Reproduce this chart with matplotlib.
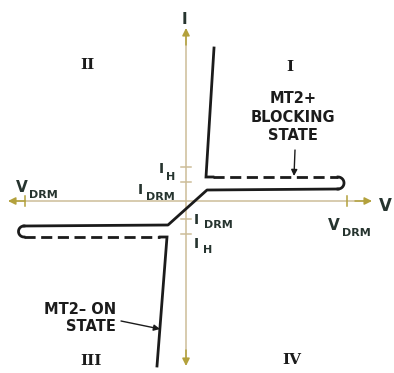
import numpy as np
import matplotlib
matplotlib.use("Agg")
from matplotlib import pyplot as plt

# canvas in pixel units (origin top-left), axes cross at (186, 201)
W, H = 394, 373
ox, oy = 186, 201

# axis ends and tick marks
v_axis_y = [30, 362]
h_axis_x = [10, 370]
i_ticks = [167, 182, 219, 234]
v_ticks = [25, 347]

# characteristic curve, pixel coords
on_q1_x = [214, 206, 213]
on_q1_y = [48, 177, 177]
block_q1_x = [213, 338]
block_q1_y = [177, 177]
main_x = [338, 207, 168, 24]
main_y = [189, 190, 225, 226]
block_q3_x = [24, 160]
block_q3_y = [237, 237]
on_q3_x = [160, 167, 157]
on_q3_y = [237, 237, 366]

ink = "#1b1b1b"
lab = "#26342f"
axc = "#cdbd98"
arrc = "#b3a13c"

fig = plt.figure(figsize=(W / 100, H / 100), dpi=100)
ax = fig.add_axes([0, 0, 1, 1])
ax.set_xlim(0, W)
ax.set_ylim(H, 0)
ax.axis("off")

# axes lines
ax.plot([ox, ox], v_axis_y, color=axc, lw=1.1, zorder=1)
ax.plot(h_axis_x, [oy, oy], color=axc, lw=1.1, zorder=1)
arr = dict(arrowstyle="-|>", color=arrc, lw=1.1, mutation_scale=11, shrinkA=0, shrinkB=0)
ax.annotate("", xy=(ox, 28), xytext=(ox, 45), arrowprops=arr)
ax.annotate("", xy=(ox, 366), xytext=(ox, 350), arrowprops=arr)
ax.annotate("", xy=(8, oy), xytext=(25, oy), arrowprops=arr)
ax.annotate("", xy=(372, oy), xytext=(355, oy), arrowprops=arr)
for t in i_ticks:
    ax.plot([ox - 5, ox + 5], [t, t], color=axc, lw=1.1, zorder=1)
for t in v_ticks:
    ax.plot([t, t], [oy - 5, oy + 5], color=arrc, lw=1.1, zorder=1)

# curve
lw = 2.0
dash = (4.0, 2.0)
ax.plot(on_q1_x, on_q1_y, color=ink, lw=lw, solid_joinstyle="miter", zorder=3)
ax.plot(block_q1_x, block_q1_y, color=ink, lw=lw, dashes=dash, zorder=3)
ax.plot(main_x, main_y, color=ink, lw=lw, zorder=3)
ax.plot(block_q3_x, block_q3_y, color=ink, lw=lw, dashes=dash, zorder=3)
ax.plot(on_q3_x, on_q3_y, color=ink, lw=lw, solid_joinstyle="miter", zorder=3)

# hooks joining solid and dashed branches
th = np.linspace(-np.pi / 2, np.pi / 2, 30)
ax.plot(338 + 6 * np.cos(th), 183 + 6 * np.sin(th), color=ink, lw=lw, zorder=3)
ax.plot(24 - 5.5 * np.cos(th), 231.5 + 5.5 * np.sin(th), color=ink, lw=lw, zorder=3)

# quadrant numerals
qf = dict(family="DejaVu Serif", weight="bold", size=11, color=ink, ha="center", va="center")
ax.text(87, 65, "II", **qf)
ax.text(290, 67, "I", **qf)
ax.text(91, 361, "III", **qf)
ax.text(292, 360, "IV", **qf)

sf = dict(family="DejaVu Sans", weight="bold", color=lab, va="center")
ax.text(184, 19, "I", size=11, ha="center", **sf)
ax.text(385, 206, "V", size=12, ha="center", **sf)

# V_DRM labels
ax.text(22, 188, "V", size=11, ha="center", **sf)
ax.text(43, 195, "DRM", size=8, ha="center", **sf)
ax.text(334, 226, "V", size=11, ha="center", **sf)
ax.text(356, 233, "DRM", size=8, ha="center", **sf)

# I_H / I_DRM labels
ax.text(161, 169, "I", size=10, ha="center", **sf)
ax.text(171, 177, "H", size=8, ha="center", **sf)
ax.text(140, 190, "I", size=10, ha="center", **sf)
ax.text(160, 197, "DRM", size=8, ha="center", **sf)
ax.text(196, 220, "I", size=10, ha="center", **sf)
ax.text(218, 225, "DRM", size=8, ha="center", **sf)
ax.text(196, 244, "I", size=10, ha="center", **sf)
ax.text(208, 250, "H", size=8, ha="center", **sf)

# state annotations
ax.text(293, 117, "MT2+\nBLOCKING\nSTATE", size=10.5, ha="center", linespacing=1.3,
        family="DejaVu Sans", weight="bold", color=ink, va="center")
ax.annotate("", xy=(294, 176), xytext=(295, 150),
            arrowprops=dict(arrowstyle="-|>", color=ink, lw=1.0, mutation_scale=9, shrinkA=0, shrinkB=0))
ax.text(116, 318, "MT2\u2013 ON\nSTATE", size=10.5, ha="right", linespacing=1.2,
        family="DejaVu Sans", weight="bold", color=ink, va="center")
ax.annotate("", xy=(160, 329), xytext=(121, 321),
            arrowprops=dict(arrowstyle="-|>", color=ink, lw=1.0, mutation_scale=9, shrinkA=0, shrinkB=0))

plt.savefig("out.png", dpi=100)
